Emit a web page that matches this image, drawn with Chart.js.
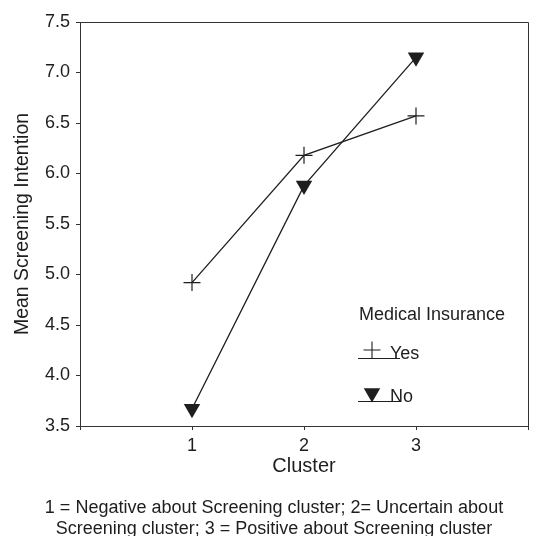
<!DOCTYPE html>
<html><head><meta charset="utf-8">
<script src="https://cdn.jsdelivr.net/npm/chart.js@4/dist/chart.umd.min.js"></script>
<style>html,body{margin:0;padding:0;background:#fff;}canvas{display:block;}</style>
</head><body>
<canvas id="c" width="546" height="536"></canvas>
<script>
const clusters = [1, 2, 3];
const insuredYes = [4.92, 6.18, 6.57];
const insuredNo = [3.67, 5.88, 7.15];
const seriesNames = ['Yes', 'No'];
const legendTitle = 'Medical Insurance';
const xTitle = 'Cluster';
const yTitle = 'Mean Screening Intention';
const xTickLabels = ['', '1', '2', '3', ''];
const yMin = 3.5, yMax = 7.5, yStep = 0.5;
const captionLines = [
  '1 = Negative about Screening cluster; 2= Uncertain about',
  'Screening cluster; 3 = Positive about Screening cluster'
];

const FONT = '"Liberation Sans", Arial, Helvetica, sans-serif';
const INK = '#1e1e1e';

const boxPlugin = {
  id: 'box',
  afterDraw(chart) {
    const {ctx, chartArea: a} = chart;
    ctx.save();
    ctx.strokeStyle = '#333';
    ctx.lineWidth = 1;
    ctx.beginPath();
    ctx.moveTo(a.left, a.top + 0.5);
    ctx.lineTo(a.right + 0.5, a.top + 0.5);
    ctx.lineTo(a.right + 0.5, a.bottom);
    ctx.stroke();
    ctx.restore();
  }
};

function drawMarker(ctx, style, x, y, r) {
  ctx.beginPath();
  if (style === 'cross') {
    ctx.moveTo(x - r, y); ctx.lineTo(x + r, y);
    ctx.moveTo(x, y - r); ctx.lineTo(x, y + r);
    ctx.stroke();
  } else {
    const h = r * 1.5, half = r * Math.sqrt(3) / 2;
    ctx.moveTo(x - half, y - h / 3);
    ctx.lineTo(x + half, y - h / 3);
    ctx.lineTo(x, y + 2 * h / 3);
    ctx.closePath();
    ctx.fill();
  }
}

const legendPlugin = {
  id: 'customLegend',
  afterDraw(chart) {
    const {ctx, chartArea: a} = chart;
    const lx = a.left + 279;
    ctx.save();
    ctx.fillStyle = INK;
    ctx.strokeStyle = INK;
    ctx.lineWidth = 1.1;
    ctx.font = '18px ' + FONT;
    ctx.textBaseline = 'alphabetic';
    ctx.textAlign = 'left';
    ctx.fillText(legendTitle, lx, a.top + 298);
    const rows = [
      {name: seriesNames[0], style: 'cross', y: a.top + 330, r: 8.5},
      {name: seriesNames[1], style: 'triangle', y: a.top + 373, r: 9.5}
    ];
    rows.forEach(r => {
      drawMarker(ctx, r.style, lx + 13, r.y - 2, r.r);
      ctx.beginPath();
      ctx.moveTo(lx - 1, r.y + 6.5);
      ctx.lineTo(lx + 41, r.y + 6.5);
      ctx.stroke();
      ctx.fillText(r.name, lx + 31, r.y + 7);
    });
    ctx.restore();
  }
};

const captionPlugin = {
  id: 'caption',
  afterDraw(chart) {
    const {ctx, width} = chart;
    ctx.save();
    ctx.fillStyle = INK;
    ctx.font = '18px ' + FONT;
    ctx.textAlign = 'center';
    ctx.textBaseline = 'alphabetic';
    ctx.fillText(captionLines[0], width / 2 + 1, 513);
    ctx.fillText(captionLines[1], width / 2 + 1, 534);
    ctx.restore();
  }
};

new Chart(document.getElementById('c'), {
  type: 'scatter',
  data: {
    datasets: [
      {
        label: seriesNames[0],
        data: clusters.map((c, i) => ({x: c, y: insuredYes[i]})),
        showLine: true,
        borderColor: INK,
        borderWidth: 1.3,
        pointStyle: 'cross',
        pointRadius: 8.5,
        pointBorderWidth: 1.2,
        pointBorderColor: INK,
        pointBackgroundColor: INK
      },
      {
        label: seriesNames[1],
        data: clusters.map((c, i) => ({x: c, y: insuredNo[i]})),
        showLine: true,
        borderColor: INK,
        borderWidth: 1.3,
        pointStyle: 'triangle',
        pointRotation: 180,
        pointRadius: 9.5,
        pointBorderWidth: 0,
        pointBorderColor: INK,
        pointBackgroundColor: INK
      }
    ]
  },
  options: {
    responsive: false,
    animation: false,
    devicePixelRatio: 1,
    layout: {padding: {top: 22, right: 18, bottom: 58, left: 0}},
    plugins: {legend: {display: false}, tooltip: {enabled: false}},
    scales: {
      x: {
        type: 'linear', min: 0, max: 4,
        ticks: {stepSize: 1, color: INK, font: {size: 18, family: FONT}, padding: 5,
          callback: (v) => xTickLabels[v] ?? ''},
        grid: {drawOnChartArea: false, tickLength: 4, color: '#333'},
        border: {color: '#333', width: 1},
        title: {display: true, text: xTitle, color: INK, font: {size: 20, family: FONT}, padding: {top: 0, bottom: 0}},
        afterFit: (s) => { s.height = 52; }
      },
      y: {
        min: yMin, max: yMax,
        ticks: {stepSize: yStep, color: INK, font: {size: 18, family: FONT}, padding: 6,
          callback: (v) => v.toFixed(1)},
        grid: {drawOnChartArea: false, tickLength: 4, color: '#333'},
        border: {color: '#333', width: 1},
        title: {display: true, text: yTitle, color: INK, font: {size: 19.5, family: FONT}, padding: {top: 11, bottom: 0}},
        afterFit: (s) => { s.width = 80; }
      }
    }
  },
  plugins: [boxPlugin, legendPlugin, captionPlugin]
});
</script>
</body></html>
